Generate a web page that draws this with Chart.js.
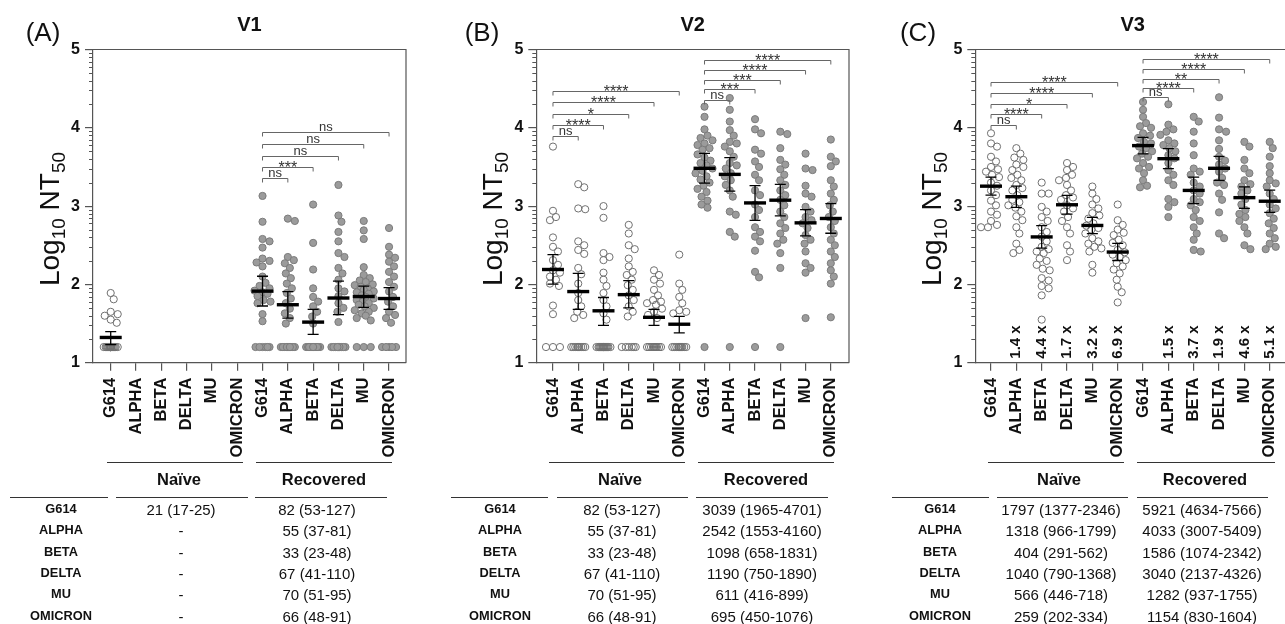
<!DOCTYPE html>
<html>
<head>
<meta charset="utf-8">
<script src="https://cdn.jsdelivr.net/npm/chart.js@4.4.0/dist/chart.umd.min.js"></script>
<style>
  body { margin: 0; width: 1285px; height: 624px; overflow: hidden; background: #fff; position: relative;
         font-family: "Liberation Sans", Arial, sans-serif; color: #111; }
  canvas { position: absolute; top: 0; }
  .hl { position: absolute; height: 0; border-top: 1.6px solid #333; }
  .txt { position: absolute; transform: translate(-50%, -50%); white-space: nowrap; line-height: 1; }
  .grp { font-weight: bold; font-size: 16.5px; }
  .lab { font-weight: bold; font-size: 12.8px; }
  .val { font-size: 15px; }
</style>
</head>
<body>
<canvas id="pA" width="430" height="470" style="left:0px"></canvas>
<canvas id="pB" width="430" height="470" style="left:430px"></canvas>
<canvas id="pC" width="445" height="470" style="left:860px"></canvas>
<script>
// ------------------------------------------------------------
// Neutralising titers (log10 NT50), naive vs recovered, V1-V3
// ------------------------------------------------------------
const variants = ["G614", "ALPHA", "BETA", "DELTA", "MU", "OMICRON"];
const categories = [...variants, ...variants];
const yTicks = [1, 2, 3, 4, 5];

// individual log10 NT50 values, columns 0-5 naive, 6-11 recovered
const v1Points = [
  [1.89, 1.81, 1.65, 1.62, 1.60, 1.55, 1.51, 1.2, 1.2, 1.2, 1.2, 1.2, 1.2, 1.2, 1.2, 1.2, 1.2, 1.2, 1.2, 1.2, 1.2, 1.2, 1.2, 1.2, 1.2, 1.2, 1.2],
  [], [], [], [], [],
  [3.13, 2.80, 2.58, 2.55, 2.47, 2.33, 2.30, 2.28, 2.23, 2.10, 2.02, 1.98, 1.95, 1.92, 1.90, 1.88, 1.85, 1.80, 1.78, 1.76, 1.62, 1.53, 1.2, 1.2, 1.2, 1.2, 1.2, 1.2],
  [2.84, 2.81, 2.35, 2.31, 2.27, 2.21, 2.14, 2.08, 2.01, 1.95, 1.89, 1.82, 1.76, 1.69, 1.63, 1.57, 1.50, 1.2, 1.2, 1.2, 1.2, 1.2, 1.2, 1.2, 1.2, 1.2, 1.2],
  [3.02, 2.53, 2.19, 1.95, 1.84, 1.78, 1.72, 1.65, 1.59, 1.50, 1.2, 1.2, 1.2, 1.2, 1.2, 1.2, 1.2, 1.2, 1.2, 1.2, 1.2, 1.2, 1.2, 1.2],
  [3.27, 2.88, 2.80, 2.67, 2.55, 2.40, 2.35, 2.21, 2.14, 2.06, 1.95, 1.91, 1.85, 1.76, 1.70, 1.65, 1.52, 1.2, 1.2, 1.2, 1.2, 1.2, 1.2, 1.2, 1.2, 1.2],
  [2.81, 2.69, 2.58, 2.22, 2.12, 2.08, 2.05, 2.03, 2.00, 1.99, 1.97, 1.95, 1.93, 1.91, 1.90, 1.88, 1.86, 1.84, 1.82, 1.80, 1.78, 1.76, 1.74, 1.72, 1.70, 1.67, 1.65, 1.63, 1.60, 1.57, 1.54, 1.2, 1.2, 1.2],
  [2.72, 2.48, 2.38, 2.34, 2.29, 2.23, 2.16, 2.10, 2.03, 1.97, 1.91, 1.84, 1.78, 1.72, 1.65, 1.61, 1.57, 1.51, 1.2, 1.2, 1.2, 1.2, 1.2]
];
const v2Points = [
  [3.76, 2.94, 2.86, 2.82, 2.60, 2.48, 2.42, 2.31, 2.25, 2.18, 2.15, 2.10, 2.06, 2.01, 1.98, 1.73, 1.62, 1.2, 1.2, 1.2],
  [3.28, 3.24, 2.97, 2.96, 2.55, 2.50, 2.44, 2.39, 2.21, 2.13, 2.01, 1.89, 1.80, 1.72, 1.65, 1.61, 1.57, 1.2, 1.2, 1.2, 1.2, 1.2, 1.2, 1.2, 1.2, 1.2],
  [3.00, 2.85, 2.40, 2.35, 2.31, 2.15, 2.06, 1.98, 1.89, 1.80, 1.72, 1.63, 1.55, 1.2, 1.2, 1.2, 1.2, 1.2, 1.2, 1.2, 1.2, 1.2, 1.2, 1.2, 1.2, 1.2, 1.2],
  [2.76, 2.65, 2.50, 2.45, 2.33, 2.23, 2.16, 2.12, 2.06, 1.99, 1.93, 1.86, 1.80, 1.72, 1.65, 1.59, 1.2, 1.2, 1.2, 1.2, 1.2, 1.2],
  [2.18, 2.12, 2.06, 2.01, 1.93, 1.86, 1.80, 1.78, 1.76, 1.74, 1.69, 1.65, 1.61, 1.57, 1.2, 1.2, 1.2, 1.2, 1.2, 1.2, 1.2, 1.2, 1.2, 1.2],
  [2.38, 2.01, 1.93, 1.84, 1.76, 1.67, 1.65, 1.63, 1.2, 1.2, 1.2, 1.2, 1.2, 1.2, 1.2, 1.2, 1.2, 1.2],
  [4.27, 4.14, 3.98, 3.90, 3.87, 3.84, 3.80, 3.78, 3.74, 3.72, 3.66, 3.62, 3.58, 3.55, 3.52, 3.48, 3.45, 3.42, 3.38, 3.34, 3.30, 3.26, 3.22, 3.18, 3.12, 3.07, 3.02, 2.98, 1.2],
  [4.38, 4.23, 4.08, 3.97, 3.90, 3.82, 3.80, 3.76, 3.70, 3.63, 3.55, 3.52, 3.48, 3.42, 3.38, 3.33, 3.27, 3.20, 3.12, 2.93, 2.89, 2.67, 2.61, 1.2],
  [4.11, 3.98, 3.93, 3.72, 3.67, 3.57, 3.50, 3.40, 3.33, 3.20, 3.14, 3.02, 2.95, 2.86, 2.73, 2.67, 2.61, 2.55, 2.43, 2.16, 2.09, 1.2],
  [3.95, 3.92, 3.74, 3.59, 3.53, 3.47, 3.40, 3.33, 3.27, 3.20, 3.14, 3.08, 3.01, 2.93, 2.86, 2.78, 2.72, 2.65, 2.57, 2.52, 2.40, 2.21, 1.2],
  [3.67, 3.48, 3.46, 3.26, 3.16, 3.12, 2.99, 2.93, 2.86, 2.82, 2.78, 2.72, 2.63, 2.57, 2.52, 2.42, 2.27, 2.21, 2.15, 1.57],
  [3.85, 3.63, 3.57, 3.51, 3.33, 3.25, 3.16, 3.08, 3.01, 2.93, 2.86, 2.81, 2.73, 2.65, 2.57, 2.50, 2.42, 2.35, 2.27, 2.18, 2.10, 2.01, 1.58]
];
const v3Points = [
  [3.93, 3.80, 3.76, 3.63, 3.57, 3.50, 3.47, 3.44, 3.40, 3.37, 3.30, 3.26, 3.20, 3.14, 3.07, 3.01, 2.93, 2.89, 2.81, 2.76, 2.73, 2.73],
  [3.74, 3.67, 3.62, 3.59, 3.53, 3.50, 3.46, 3.40, 3.36, 3.33, 3.27, 3.23, 3.20, 3.14, 3.08, 3.05, 3.01, 2.98, 2.93, 2.87, 2.82, 2.73, 2.65, 2.52, 2.44, 2.40],
  [3.30, 3.16, 3.16, 2.99, 2.93, 2.86, 2.81, 2.73, 2.67, 2.61, 2.55, 2.48, 2.45, 2.42, 2.40, 2.33, 2.30, 2.25, 2.20, 2.18, 2.08, 2.05, 1.98, 1.95, 1.86, 1.55],
  [3.55, 3.50, 3.46, 3.40, 3.36, 3.33, 3.27, 3.20, 3.14, 3.11, 3.08, 3.01, 2.97, 2.93, 2.86, 2.81, 2.73, 2.65, 2.50, 2.42, 2.31],
  [3.25, 3.16, 3.09, 3.02, 2.97, 2.91, 2.88, 2.84, 2.78, 2.75, 2.72, 2.70, 2.65, 2.59, 2.55, 2.52, 2.48, 2.46, 2.42, 2.25, 2.15],
  [3.02, 2.82, 2.76, 2.70, 2.66, 2.63, 2.57, 2.53, 2.50, 2.44, 2.41, 2.38, 2.35, 2.31, 2.27, 2.23, 2.19, 2.14, 2.06, 1.97, 1.90, 1.77],
  [4.33, 4.23, 4.14, 4.06, 4.02, 4.00, 3.93, 3.90, 3.87, 3.82, 3.80, 3.76, 3.74, 3.70, 3.67, 3.63, 3.61, 3.55, 3.50, 3.48, 3.42, 3.33, 3.26, 3.24],
  [4.30, 4.04, 3.98, 3.95, 3.91, 3.84, 3.80, 3.78, 3.74, 3.70, 3.65, 3.61, 3.55, 3.46, 3.40, 3.33, 3.27, 3.09, 3.05, 2.99, 2.86],
  [4.14, 4.08, 3.95, 3.80, 3.65, 3.48, 3.44, 3.40, 3.30, 3.25, 3.20, 3.16, 3.09, 3.05, 3.01, 2.95, 2.86, 2.81, 2.73, 2.65, 2.57, 2.44, 2.42],
  [4.39, 4.13, 3.98, 3.95, 3.84, 3.73, 3.63, 3.58, 3.53, 3.48, 3.44, 3.36, 3.30, 3.27, 3.16, 3.08, 2.92, 2.65, 2.59],
  [3.82, 3.76, 3.59, 3.48, 3.42, 3.33, 3.28, 3.25, 3.20, 3.16, 3.09, 3.02, 2.95, 2.90, 2.86, 2.81, 2.73, 2.65, 2.50, 2.45],
  [3.82, 3.74, 3.63, 3.51, 3.42, 3.33, 3.29, 3.25, 3.16, 3.09, 3.02, 2.97, 2.91, 2.84, 2.78, 2.72, 2.65, 2.59, 2.52, 2.48, 2.45]
];

// geometric mean titers with 95% CI (as plotted)
const v1Gmt = [21, null, null, null, null, null, 82, 55, 33, 67, 70, 66];
const v1Lo  = [17, null, null, null, null, null, 53, 37, 23, 41, 51, 48];
const v1Hi  = [25, null, null, null, null, null, 127, 81, 48, 110, 95, 91];
const v2Gmt = [155, 81, 46, 74, 38, 31, 3039, 2542, 1098, 1190, 611, 695];
const v2Lo  = [101, 48, 30, 50, 30, 24, 1965, 1553, 658, 750, 416, 450];
const v2Hi  = [240, 138, 68, 112, 48, 39, 4701, 4160, 1831, 1890, 899, 1076];
const v3Gmt = [1797, 1318, 404, 1040, 566, 259, 5921, 4033, 1586, 3040, 1282, 1154];
const v3Lo  = [1377, 966, 291, 790, 446, 202, 4634, 3007, 1074, 2137, 937, 830];
const v3Hi  = [2346, 1799, 562, 1368, 718, 334, 7566, 5409, 2342, 4326, 1755, 1604];

// significance brackets: [from column, to column, height (log10), label]
const v1Brackets = [[6, 7, 3.36, "ns"], [6, 8, 3.50, "***"], [6, 9, 3.64, "ns"], [6, 10, 3.79, "ns"], [6, 11, 3.94, "ns"]];
const v2Brackets = [[0, 1, 3.90, "ns"], [0, 2, 4.03, "****"], [0, 3, 4.18, "*"], [0, 4, 4.33, "****"], [0, 5, 4.47, "****"],
                    [6, 7, 4.36, "ns"], [6, 8, 4.49, "***"], [6, 9, 4.61, "***"], [6, 10, 4.74, "****"], [6, 11, 4.87, "****"]];
const v3Brackets = [[0, 1, 4.03, "ns"], [0, 2, 4.17, "****"], [0, 3, 4.31, "*"], [0, 4, 4.45, "****"], [0, 5, 4.59, "****"],
                    [6, 7, 4.39, "ns"], [6, 8, 4.51, "****"], [6, 9, 4.62, "**"], [6, 10, 4.75, "****"], [6, 11, 4.88, "****"]];
const v3Folds = ["", "1.4 x", "4.4 x", "1.7 x", "3.2 x", "6.9 x", "", "1.5 x", "3.7 x", "1.9 x", "4.6 x", "5.1 x"];

// table text under each panel
const v1NaiveText = ["21 (17-25)", "-", "-", "-", "-", "-"];
const v1RecText   = ["82 (53-127)", "55 (37-81)", "33 (23-48)", "67 (41-110)", "70 (51-95)", "66 (48-91)"];
const v2NaiveText = ["82 (53-127)", "55 (37-81)", "33 (23-48)", "67 (41-110)", "70 (51-95)", "66 (48-91)"];
const v2RecText   = ["3039 (1965-4701)", "2542 (1553-4160)", "1098 (658-1831)", "1190 (750-1890)", "611 (416-899)", "695 (450-1076)"];
const v3NaiveText = ["1797 (1377-2346)", "1318 (966-1799)", "404 (291-562)", "1040 (790-1368)", "566 (446-718)", "259 (202-334)"];
const v3RecText   = ["5921 (4634-7566)", "4033 (3007-5409)", "1586 (1074-2342)", "3040 (2137-4326)", "1282 (937-1755)", "1154 (830-1604)"];

// ------------------------------------------------------------
const FONT = '"Liberation Sans", Arial, sans-serif';
const H = 470, AREA_TOP = 49.5, AREA_BOTTOM = 362.7;

// simple beeswarm: spread close values sideways, piles overlap near the centre
function swarm(values) {
  const pxY = 78.3, pxX = 25.3, D = 6.6, MAXD = 10, PILE = 5;
  const placed = [];
  const out = new Array(values.length);
  const order = values.map((v, i) => i).sort((a, b) => values[b] - values[a]);
  for (const i of order) {
    const py = values[i] * pxY;
    let best = null, fallback = 0, fbScore = -1;
    for (let k = 0; k <= 2 * MAXD; k++) {
      const dx = (k % 2 ? 1 : -1) * Math.ceil(k / 2);
      let minD = Infinity;
      for (const p of placed) {
        const d = Math.hypot(p.dx - dx, p.py - py);
        if (d < minD) minD = d;
      }
      if (minD >= D) { best = dx; break; }
      if (Math.abs(dx) <= PILE && minD > fbScore + 0.01) { fbScore = minD; fallback = dx; }
    }
    if (best === null) best = fallback;
    placed.push({ dx: best, py });
    out[i] = best / pxX;
  }
  return out;
}

function buildPoints(groups) {
  const naive = [], rec = [];
  groups.forEach((vals, ci) => {
    const offs = swarm(vals);
    vals.forEach((v, j) => (ci < 6 ? naive : rec).push({ x: ci + offs[j], y: v }));
  });
  return { naive, rec };
}

function decorPlugin(cfg) {
  return {
    id: "decor" + cfg.letter,
    afterDatasetsDraw(chart) {
      const { ctx, chartArea: a, scales: { x, y } } = chart;
      ctx.save();

      // frame (top + right)
      ctx.strokeStyle = "#555";
      ctx.lineWidth = 1.2;
      ctx.beginPath();
      ctx.moveTo(a.left, a.top); ctx.lineTo(a.right, a.top); ctx.lineTo(a.right, a.bottom);
      ctx.stroke();

      // minor log ticks
      ctx.lineWidth = 1;
      ctx.beginPath();
      for (let d = 1; d < 5; d++) {
        for (let k = 2; k <= 9; k++) {
          const py = Math.round(y.getPixelForValue(d + Math.log10(k))) + 0.5;
          ctx.moveTo(a.left - 4, py); ctx.lineTo(a.left, py);
        }
      }
      ctx.stroke();

      // geometric means with 95% CI
      ctx.strokeStyle = "#000";
      cfg.gmt.forEach((g, i) => {
        if (g == null) return;
        const px = x.getPixelForValue(i);
        const yl = y.getPixelForValue(Math.log10(cfg.lo[i]));
        const yh = y.getPixelForValue(Math.log10(cfg.hi[i]));
        ctx.lineWidth = 1.3;
        ctx.beginPath();
        ctx.moveTo(px, yl); ctx.lineTo(px, yh);
        ctx.moveTo(px - 5.5, yl); ctx.lineTo(px + 5.5, yl);
        ctx.moveTo(px - 5.5, yh); ctx.lineTo(px + 5.5, yh);
        ctx.stroke();
        const ym = y.getPixelForValue(Math.log10(g));
        ctx.lineWidth = 3.4;
        ctx.beginPath();
        ctx.moveTo(px - 11, ym); ctx.lineTo(px + 11, ym);
        ctx.stroke();
      });

      // significance brackets
      ctx.textAlign = "center";
      ctx.textBaseline = "alphabetic";
      cfg.brackets.forEach(([c1, c2, v, label]) => {
        const x1 = x.getPixelForValue(c1), x2 = x.getPixelForValue(c2);
        const py = Math.round(y.getPixelForValue(v)) + 0.5;
        ctx.strokeStyle = "#666";
        ctx.lineWidth = 1;
        ctx.beginPath();
        ctx.moveTo(x1, py + 4); ctx.lineTo(x1, py); ctx.lineTo(x2, py); ctx.lineTo(x2, py + 4);
        ctx.stroke();
        ctx.fillStyle = "#333";
        if (label.includes("*")) {
          ctx.font = "16px " + FONT;
          ctx.fillText(label, (x1 + x2) / 2, py + 5.5);
        } else {
          ctx.font = "13px " + FONT;
          ctx.fillText(label, (x1 + x2) / 2, py - 1.5);
        }
      });

      // fold-change labels
      if (cfg.folds) {
        ctx.fillStyle = "#111";
        ctx.font = "bold 15px " + FONT;
        ctx.textAlign = "left";
        ctx.textBaseline = "middle";
        cfg.folds.forEach((f, i) => {
          if (!f) return;
          ctx.save();
          ctx.translate(x.getPixelForValue(i), a.bottom - 4);
          ctx.rotate(-Math.PI / 2);
          ctx.fillText(f, 0, 0);
          ctx.restore();
        });
      }

      // panel title and letter
      ctx.fillStyle = "#111";
      ctx.textAlign = "center";
      ctx.textBaseline = "middle";
      ctx.font = "bold 20px " + FONT;
      ctx.fillText(cfg.title, (a.left + a.right) / 2, 25);
      ctx.font = "26px " + FONT;
      ctx.fillText("(" + cfg.letter + ")", cfg.letterX, 34);

      // y axis title: Log10 NT50
      ctx.save();
      ctx.translate(a.left - 34, 219);
      ctx.rotate(-Math.PI / 2);
      ctx.textAlign = "left";
      ctx.textBaseline = "alphabetic";
      const parts = [["Log", 28, 0], ["10", 19, 6], [" NT", 28, 0], ["50", 19, 6]];
      let total = 0;
      parts.forEach(p => { ctx.font = p[1] + "px " + FONT; total += ctx.measureText(p[0]).width; });
      let cx = -total / 2;
      parts.forEach(p => {
        ctx.font = p[1] + "px " + FONT;
        ctx.fillText(p[0], cx, p[2]);
        cx += ctx.measureText(p[0]).width;
      });
      ctx.restore();

      ctx.restore();
    }
  };
}

function makePanel(cfg) {
  const pts = buildPoints(cfg.points);
  const el = document.getElementById(cfg.canvas);
  return new Chart(el.getContext("2d"), {
    type: "scatter",
    data: {
      datasets: [
        { data: pts.naive, pointRadius: 3.6, pointBackgroundColor: "rgba(255,255,255,0)",
          pointBorderColor: "#707070", pointBorderWidth: 1 },
        { data: pts.rec, pointRadius: 3.6, pointBackgroundColor: "#9b9b9b",
          pointBorderColor: "#7b7b7b", pointBorderWidth: 1 }
      ]
    },
    options: {
      responsive: false,
      animation: false,
      events: [],
      layout: { padding: { left: 0, top: AREA_TOP, right: cfg.padRight, bottom: 0 } },
      plugins: { legend: { display: false }, tooltip: { enabled: false } },
      scales: {
        x: {
          type: "linear",
          min: cfg.xMin,
          max: cfg.xMax,
          afterBuildTicks: s => { s.ticks = categories.map((c, i) => ({ value: i })); },
          afterFit: s => { s.height = H - AREA_BOTTOM; s.paddingLeft = 0; s.paddingRight = 0; },
          ticks: {
            autoSkip: false, minRotation: 90, maxRotation: 90, padding: 7, color: "#111",
            font: { family: FONT, size: 16.5, weight: "bold" },
            callback: (v, i) => categories[i]
          },
          grid: { drawOnChartArea: false, drawTicks: true, tickLength: 8, color: "#555", lineWidth: 1.2 },
          border: { color: "#555", width: 1.2 }
        },
        y: {
          min: 1,
          max: 5,
          afterBuildTicks: s => { s.ticks = yTicks.map(v => ({ value: v })); },
          afterFit: s => { s.width = cfg.yAxisW; },
          ticks: { padding: 5, color: "#111", font: { family: FONT, size: 16, weight: "bold" } },
          grid: { drawOnChartArea: false, drawTicks: true, tickLength: 8, color: "#555", lineWidth: 1.2 },
          border: { color: "#555", width: 1.2 }
        }
      }
    },
    plugins: [decorPlugin(cfg)]
  });
}

function addLine(x1, x2, y) {
  const d = document.createElement("div");
  d.className = "hl";
  d.style.left = x1 + "px"; d.style.width = (x2 - x1) + "px"; d.style.top = y + "px";
  document.body.appendChild(d);
}
function addText(cls, text, x, y) {
  const d = document.createElement("div");
  d.className = "txt " + cls;
  d.textContent = text;
  d.style.left = x + "px"; d.style.top = y + "px";
  document.body.appendChild(d);
}

function makeTable(t) {
  addLine(t.groupNaive[0], t.groupNaive[1], 462);
  addLine(t.groupRec[0], t.groupRec[1], 462);
  addText("grp", "Naïve", t.naiveLabelX, 479);
  addText("grp", "Recovered", t.recLabelX, 479);
  t.header.forEach(h => addLine(h[0], h[1], 496.5));
  variants.forEach((v, i) => {
    const ry = 509 + i * 21.3;
    addText("lab", v, t.colX[0], ry);
    addText("val", t.naive[i], t.colX[1], ry);
    addText("val", t.rec[i], t.colX[2], ry);
  });
}

const panels = [
  { canvas: "pA", letter: "A", title: "V1", letterX: 43, yAxisW: 93, padRight: 24, xMin: -0.7, xMax: 11.67,
    points: v1Points, gmt: v1Gmt, lo: v1Lo, hi: v1Hi, brackets: v1Brackets, folds: null,
    table: { groupNaive: [107, 243], groupRec: [256, 392], naiveLabelX: 179, recLabelX: 324,
             header: [[10, 108], [116, 248], [255, 387]], colX: [61, 181, 317], naive: v1NaiveText, rec: v1RecText } },
  { canvas: "pB", letter: "B", title: "V2", letterX: 52, yAxisW: 106.3, padRight: 11, xMin: -0.66, xMax: 11.72,
    points: v2Points, gmt: v2Gmt, lo: v2Lo, hi: v2Hi, brackets: v2Brackets, folds: null,
    table: { groupNaive: [549, 685], groupRec: [698, 834], naiveLabelX: 620, recLabelX: 766,
             header: [[451, 548], [557, 688], [696, 828]], colX: [500, 622, 762], naive: v2NaiveText, rec: v2RecText } },
  { canvas: "pC", letter: "C", title: "V3", letterX: 58, yAxisW: 115.3, padRight: 15, xMin: -0.62, xMax: 11.8,
    points: v3Points, gmt: v3Gmt, lo: v3Lo, hi: v3Hi, brackets: v3Brackets, folds: v3Folds,
    table: { groupNaive: [988, 1124], groupRec: [1137, 1275], naiveLabelX: 1059, recLabelX: 1205,
             header: [[892, 989], [997, 1128], [1137, 1268]], colX: [940, 1061, 1202], naive: v3NaiveText, rec: v3RecText } }
];

panels.forEach(p => { makePanel(p); makeTable(p.table); });
</script>
</body>
</html>
